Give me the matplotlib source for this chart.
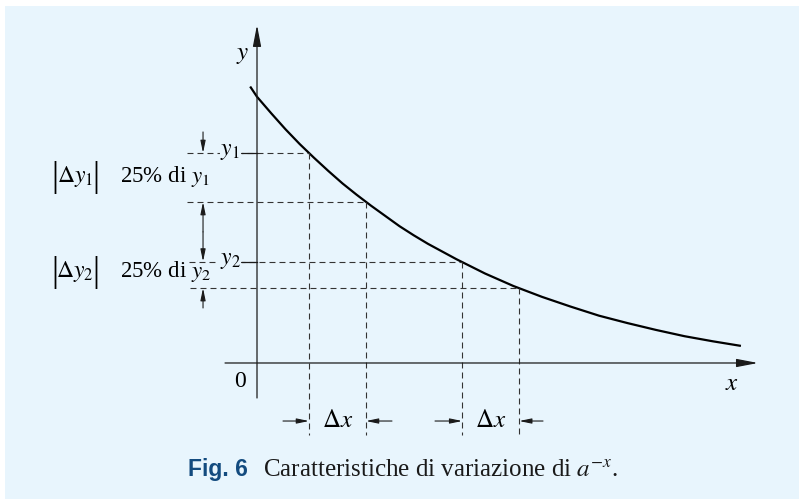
import matplotlib.pyplot as plt
from matplotlib.patches import Rectangle

plt.rcParams['mathtext.fontset'] = 'stix'
plt.rcParams['font.family'] = ['Liberation Serif', 'DejaVu Serif']
plt.rcParams['lines.scale_dashes'] = False

# curve y = a^-x (1 unit ~ one Δx step)
curve_x = [-0.12, 0, 0.25, 0.5, 0.75, 1, 1.25, 1.5, 1.75, 2, 2.25, 2.5, 2.75, 3, 3.5, 4,
           4.5, 5, 5.5, 6, 6.5, 7, 7.5, 8, 8.49]
curve_y = [4.85, 4.67, 4.38, 4.10, 3.84, 3.60, 3.37, 3.15, 2.95, 2.76, 2.58, 2.40, 2.24,
           2.09, 1.82, 1.57, 1.35, 1.16, 0.99, 0.83, 0.70, 0.58, 0.47, 0.38, 0.30]

# the four marked points on the curve
pt_x = [0.912, 1.912, 3.60, 4.60]
pt_y = [3.685, 2.823, 1.78, 1.313]
pt_labels = [r'$y_1$', None, r'$y_2$', None]
dash_left = [-1.23, -1.23, -1.19, -1.17]

BG = '#e8f5fd'
INK = '#1a1a1a'
FIG_BLUE = '#134b7f'
DASH = (0, (4.3, 2.9))

fig = plt.figure(figsize=(7.99, 4.99), dpi=100, facecolor='white')
fig.add_artist(Rectangle((5 / 799, 0), 794 / 799, 493 / 499, transform=fig.transFigure,
                         facecolor=BG, edgecolor='none', zorder=-1))
ax = fig.add_axes([0, 0, 1, 1])
ax.set_xlim(-4.509, 9.509)
ax.set_ylim(-2.386, 6.368)
ax.axis('off')
ax.patch.set_visible(False)


def arrow(x0, y0, x1, y1, hl=0.72, hw=0.15, ms=10, lw=0.8):
    ax.annotate('', xy=(x1, y1), xytext=(x0, y0),
                arrowprops=dict(arrowstyle=f'-|>,head_length={hl},head_width={hw}',
                                lw=lw, color=INK, shrinkA=0, shrinkB=0, mutation_scale=ms))


# axes with arrow heads
arrow(-0.561, 0, 8.789, 0, hl=1.3, hw=0.25, lw=0.9)
arrow(0, -0.614, 0, 5.93, hl=1.3, hw=0.25, lw=0.9)
ax.text(-0.25, 5.40, r'$y$', fontsize=18, ha='center', va='center')
ax.text(-0.30, -0.33, '0', fontsize=17, ha='center', va='center')
ax.text(8.33, -0.36, r'$x$', fontsize=18, ha='center', va='center')

# the curve
ax.plot(curve_x, curve_y, color='black', lw=1.6, solid_capstyle='butt')

# dashed guides
for x, y, xl, lab in zip(pt_x, pt_y, dash_left, pt_labels):
    ax.plot([xl, x], [y, y], color='#333333', lw=0.8, linestyle=DASH)
    ax.plot([x, x], [y, -1.26], color='#333333', lw=0.8, linestyle=DASH)
    if lab:
        ax.plot([-0.26, 0], [y, y], color=INK, lw=0.9)
        ax.text(-0.47, y + 0.02, lab, fontsize=17, ha='center', va='center',
                bbox=dict(facecolor=BG, edgecolor='none', pad=0.5))

# vertical Δy arrows
ax_x = -0.947
arrow(ax_x, 4.053, ax_x, pt_y[0])
arrow(ax_x, 2.30, ax_x, pt_y[1])
arrow(ax_x, 2.30, ax_x, pt_y[2])
arrow(ax_x, 0.965, ax_x, pt_y[3])

# |Δy| labels: tall bars drawn as larger glyphs around the term
for row_y, sub in [(3.28, '1'), (1.61, '2')]:
    ax.text(-3.19, row_y, rf'$\Delta y_{sub}$', fontsize=17, ha='center', va='center')
    ax.text(-3.555, row_y - 0.02, '|', fontsize=25, ha='center', va='center')
    ax.text(-2.82, row_y - 0.02, '|', fontsize=25, ha='center', va='center')
    ax.text(-2.40, row_y, rf'25% di $y_{sub}$', fontsize=16.5, ha='left', va='center')

# horizontal Δx arrows
arr_y = -1.018
arrow(0.456, arr_y, pt_x[0], arr_y)
arrow(2.368, arr_y, pt_x[1], arr_y)
arrow(3.123, arr_y, pt_x[2], arr_y)
arrow(5.018, arr_y, pt_x[3], arr_y)
ax.text((pt_x[0] + pt_x[1]) / 2, arr_y, r'$\Delta x$', fontsize=18, ha='center', va='center')
ax.text((pt_x[2] + pt_x[3]) / 2, arr_y, r'$\Delta x$', fontsize=18, ha='center', va='center')

# caption
fig.text(188 / 799, 1 - 476 / 499, 'Fig. 6', family='Liberation Sans', weight='bold',
         fontsize=16.5, color=FIG_BLUE, ha='left', va='baseline')
fig.text(263 / 799, 1 - 476 / 499, r'Caratteristiche di variazione di $a^{-x}$.',
         fontsize=18, color=INK, ha='left', va='baseline')

fig.savefig('out.png', dpi=100, facecolor=fig.get_facecolor())
